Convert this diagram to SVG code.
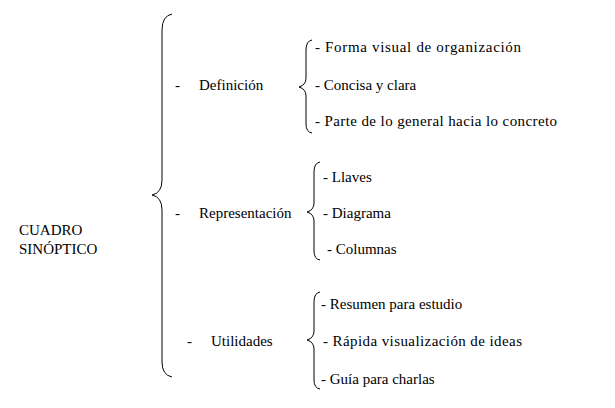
<svg xmlns="http://www.w3.org/2000/svg" width="615" height="408" viewBox="0 0 615 408" font-family="Liberation Serif, serif" font-size="15">
<style>
text{font-family:'Liberation Serif',serif;font-size:15px;fill:#000}
.b{fill:none;stroke:#000;stroke-width:1}
</style>
<rect width="615" height="408" fill="#fff"/>
<g id="connectors">
<path class="b" d="M172,14 Q162,16 162,30 L162,180 Q162,193 152,195 Q162,197 162,210 L162,362 Q162,375 172,377"/>
<path class="b" d="M312,40 Q306,41 306,50 L306,78 Q306,85 299,87 Q306,89 306,96 L306,124 Q306,132 312,133"/>
<path class="b" d="M320,162 Q314,163 314,172 L314,203 Q314,210 307,212 Q314,214 314,221 L314,251 Q314,259 320,260"/>
<path class="b" d="M320,292 Q314,293 314,302 L314,331 Q314,338 307,340 Q314,342 314,349 L314,380 Q314,388 320,389"/>
</g>
<g id="root"><text x="19" y="235">CUADRO</text><text x="19" y="254">SINÓPTICO</text></g>
<g id="definicion"><text x="175" y="90">-</text><text x="199" y="90">Definición</text></g>
<g id="representacion"><text x="175" y="218">-</text><text x="199" y="218">Representación</text></g>
<g id="utilidades"><text x="187" y="346">-</text><text x="211" y="346">Utilidades</text></g>
<g id="d1"><text x="315" y="52" textLength="206">- Forma visual de organización</text></g>
<g id="d2"><text x="315" y="90">- Concisa y clara</text></g>
<g id="d3"><text x="315" y="126" textLength="242">- Parte de lo general hacia lo concreto</text></g>
<g id="r1"><text x="323" y="182">- Llaves</text></g>
<g id="r2"><text x="323" y="218">- Diagrama</text></g>
<g id="r3"><text x="327" y="254">- Columnas</text></g>
<g id="u1"><text x="321" y="309">- Resumen para estudio</text></g>
<g id="u2"><text x="323" y="346" textLength="199">- Rápida visualización de ideas</text></g>
<g id="u3"><text x="321" y="384">- Guía para charlas</text></g>
</svg>
